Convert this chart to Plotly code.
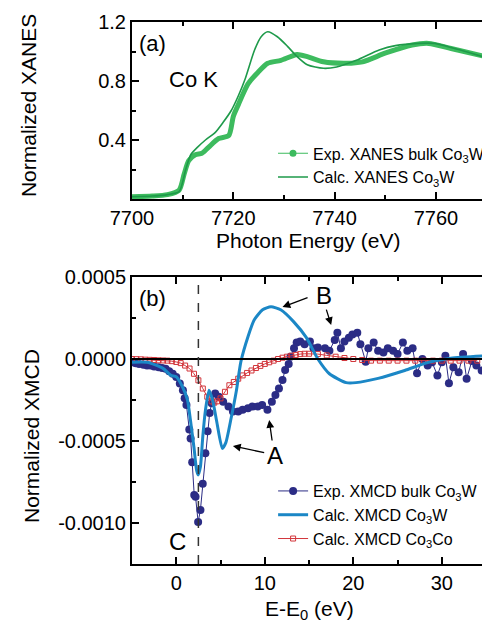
import plotly.graph_objects as go

# ---------------- Data: panel (a) XANES ----------------
xanes_calc_E = [7700, 7704, 7707, 7709.3, 7710.6, 7711.6, 7712.9, 7714.5, 7716.4, 7718, 7719.6,
                7721, 7722.3, 7724.2, 7725.5, 7726.8, 7728.7, 7730.7, 7732.6, 7734.6, 7737.8,
                7740.4, 7744.3, 7748.8, 7752, 7756.5, 7759.8, 7763.7, 7769.3]
xanes_calc_V = [0.015, 0.02, 0.03, 0.05, 0.20, 0.30, 0.35, 0.40, 0.45, 0.52, 0.60,
                0.70, 0.81, 1.01, 1.10, 1.134, 1.10, 1.035, 0.965, 0.91, 0.886,
                0.895, 0.94, 1.01, 1.04, 1.055, 1.055, 1.02, 0.965]

xanes_exp_E = [7700, 7704, 7707, 7709.3, 7710.3, 7711.2, 7712.5, 7713.8, 7715.1, 7717.1, 7719.1,
               7720.0, 7721.0, 7722.9, 7724.9, 7726.8, 7729.4, 7732.6, 7734.6, 7737.8, 7742.3,
               7745.5, 7750.1, 7755.3, 7758.6, 7763.0, 7769.3]
xanes_exp_V = [0.015, 0.02, 0.03, 0.06, 0.17, 0.26, 0.30, 0.31, 0.35, 0.41, 0.43,
               0.56, 0.64, 0.78, 0.86, 0.92, 0.94, 0.98, 0.965, 0.93, 0.92,
               0.93, 0.99, 1.044, 1.055, 1.02, 0.97]

# ---------------- Data: panel (b) XMCD ----------------
xmcd_exp_E = [-5.0, -4.6, -4.2, -3.7, -3.3, -2.9, -2.5, -2.0, -1.6, -1.2, -0.8, -0.4, 0.0, 0.4,
              0.75, 0.95, 1.15, 1.47, 1.62, 1.8, 2.03, 2.18, 2.47, 2.73, 2.99, 3.29, 3.54, 3.77,
              4.0, 4.4, 4.8, 5.3, 5.9, 6.4, 7.0, 7.5, 8.1, 8.6, 9.2, 9.7, 10.3, 10.8, 11.2, 11.6,
              12.0, 12.3, 12.7, 12.9, 13.3, 13.6, 14.0, 14.5, 15.1, 15.5, 16.0, 16.8, 17.3, 17.9,
              18.2, 18.6, 19.0, 19.5, 19.9, 20.45, 20.8, 21.4, 21.7, 22.3, 22.8, 23.4, 23.9, 24.5,
              25.0, 25.6, 26.1, 26.7, 27.2, 27.8, 28.4, 28.9, 29.5, 30.0, 30.4, 30.8, 31.3, 31.9,
              32.4, 32.8, 33.4, 33.9, 34.5]
xmcd_exp_V = [-0.00002, -0.000026, -0.00003, -0.000035, -0.00004, -0.00004, -0.000045, -0.00005,
              -0.000055, -0.00006, -0.000075, -0.00009, -0.00011, -0.00015, -0.00019, -0.00024,
              -0.00028, -0.00043, -0.000484, -0.00063, -0.00083, -0.00084, -0.000994, -0.00092,
              -0.00076, -0.000575, -0.00044, -0.00033, -0.00027, -0.00021, -0.00023, -0.00026,
              -0.00029, -0.00032, -0.00032, -0.00031, -0.0003, -0.00029, -0.00029, -0.00028,
              -0.00031, -0.00026, -0.00022, -0.00018, -0.000128, -0.000067, -0.00003, 0.000014,
              0.000065, 0.0001, 0.000106, 0.00009, 0.000106, 0.000065, 0.00007, 0.000065, 0.00005,
              0.000116, 0.00016, 0.000065, 0.000106, 0.00013, 0.00015, 0.00016, 0.00009, -0.000016,
              0.000065, 0.0001, 0.00005, 0.00004, 0.000065, 0.00005, 0.00003, 0.0001, 0.00005,
              0.000065, -0.000087, 0.0, -0.00004, -0.00002, -0.0001, -0.00002, 0.00002, -0.000148,
              -0.00005, -0.00008, 0.00003, -0.00012, -0.000012, -0.00004, -0.00007]

xmcd_calcW_E = [-5.0, -3.3, -1.5, -0.6, 0.0, 0.7, 1.27, 1.6, 2.0, 2.3, 2.47, 2.73, 3.0, 3.3, 3.7,
                4.1, 4.6, 5.2, 5.6, 6.2, 6.8, 7.3, 8.1, 8.8, 9.75, 10.7, 11.8, 13.25, 14.7, 16.0,
                17.3, 19.2, 20.3, 22.8, 25.8, 28.4, 31.0, 34.65]
xmcd_calcW_V = [-0.00002, -0.00002, -0.000057, -0.0001, -0.000108, -0.000169, -0.00025, -0.000372,
                -0.00054, -0.00068, -0.000707, -0.000657, -0.00047, -0.00031, -0.00019, -0.00025,
                -0.00039, -0.000545, -0.00051, -0.00036, -0.00019, -0.000016, 0.000136, 0.000238,
                0.0003, 0.000319, 0.0003, 0.000228, 0.00013, 0.0, -0.00009, -0.000144, -0.000144,
                -0.000118, -0.00007, -0.000022, 0.000004, 0.000018]

xmcd_calcCo_E = [-5, -4.5, -4, -3.5, -3, -2.5, -2, -1.5, -1, -0.5, 0, 0.5, 1.0, 1.5, 2.0, 2.5, 3.0,
                 3.5, 4.0, 4.3, 4.6, 5.0, 5.5, 6.0, 6.5, 7.0, 7.5, 8.0, 8.5, 9.0, 9.5, 10, 10.5, 11,
                 11.5, 12, 12.5, 13, 13.5, 14, 14.5, 15, 16, 17, 18, 19, 20, 21, 22, 23, 24, 25, 26,
                 27, 28, 29, 30, 31, 32, 33, 34]
xmcd_calcCo_V = [0.0, -0.000001, -0.000002, -0.000004, -0.000005, -0.000006, -0.000008, -0.000009,
                 -0.00001, -0.000013, -0.000018, -0.000025, -0.00004, -0.000058, -0.00009, -0.00013,
                 -0.00018, -0.00023, -0.000258, -0.000266, -0.000258, -0.00024, -0.0002, -0.00016,
                 -0.00014, -0.00012, -0.0001, -0.000085, -0.00007, -0.000055, -0.000042, -0.00003,
                 -0.00002, -0.00001, 0.0, 0.000008, 0.000014, 0.00002, 0.000025, 0.00003, 0.000032,
                 0.000032, 0.00003, 0.000022, 0.000014, 0.000006, 0.0, -0.000006, -0.00001, -0.00001,
                 -0.00001, -0.00001, -0.00001, -0.00001, -0.00001, -0.00001, -0.00001, -0.00001,
                 -0.00001, -0.00001, -0.00001]

E_C = 2.5  # position of feature C (dashed line)

# ---------------- Styles ----------------
FONT = "Liberation Sans, Arial, Helvetica, sans-serif"
GREEN_EXP = "#3dbb5e"
GREEN_CALC = "#1e9a4a"
NAVY = "#2b2c85"
BLUE = "#1b87c6"
RED = "#d2353b"

fig = go.Figure()

# panel (a)
fig.add_trace(go.Scatter(x=xanes_exp_E, y=xanes_exp_V, mode="lines",
                         line=dict(color=GREEN_EXP, width=5, shape="spline", smoothing=0.7),
                         showlegend=False, xaxis="x", yaxis="y"))
fig.add_trace(go.Scatter(x=[None], y=[None], mode="lines+markers", name="Exp. XANES bulk Co<sub>3</sub>W",
                         line=dict(color=GREEN_EXP, width=1.2), marker=dict(size=7, color=GREEN_EXP),
                         legend="legend", legendrank=1, xaxis="x", yaxis="y"))
fig.add_trace(go.Scatter(x=xanes_calc_E, y=xanes_calc_V, mode="lines", name="Calc. XANES Co<sub>3</sub>W",
                         line=dict(color=GREEN_CALC, width=1.6, shape="spline", smoothing=0.7),
                         legend="legend", legendrank=2, xaxis="x", yaxis="y"))

# panel (b)
fig.add_trace(go.Scatter(x=xmcd_exp_E, y=xmcd_exp_V, mode="lines+markers",
                         name="Exp. XMCD bulk Co<sub>3</sub>W",
                         line=dict(color=NAVY, width=1), marker=dict(size=8, color=NAVY),
                         legend="legend2", legendrank=1, xaxis="x2", yaxis="y2"))
fig.add_trace(go.Scatter(x=xmcd_calcCo_E, y=xmcd_calcCo_V, mode="lines+markers",
                         name="Calc. XMCD Co<sub>3</sub>Co",
                         line=dict(color=RED, width=1),
                         marker=dict(symbol="square-open", size=5, color=RED, line=dict(width=1)),
                         legend="legend2", legendrank=3, xaxis="x2", yaxis="y2"))
fig.add_trace(go.Scatter(x=xmcd_calcW_E, y=xmcd_calcW_V, mode="lines", name="Calc. XMCD Co<sub>3</sub>W",
                         line=dict(color=BLUE, width=3, shape="spline", smoothing=0.6),
                         legend="legend2", legendrank=2, xaxis="x2", yaxis="y2"))

axis_common = dict(showline=True, linecolor="black", linewidth=2, ticks="inside", ticklen=7,
                   tickwidth=1.5, tickcolor="black", showgrid=False, zeroline=False,
                   tickfont=dict(family=FONT, size=20, color="black"))

# page body has an 8px margin: figure is 482x617 so the page spans 490x625
fig.update_layout(
    width=482, height=617,
    margin=dict(l=124, r=0, t=14, b=61),
    paper_bgcolor="white", plot_bgcolor="white",
    font=dict(family=FONT, color="black"),
    xaxis=dict(domain=[0, 1], anchor="y", range=[7700, 7769.3], tickvals=[7700, 7720, 7740, 7760],
               mirror="ticks", minor=dict(ticks="inside", dtick=10, tick0=7700, ticklen=4, tickcolor="black"),
               **axis_common),
    yaxis=dict(domain=[0.6734, 1.0], anchor="x", range=[0, 1.2], tickvals=[0.4, 0.8, 1.2],
               ticktext=["0.4", "0.8", "1.2"],
               minor=dict(ticks="inside", dtick=0.2, tick0=0, ticklen=4, tickcolor="black"),
               **axis_common),
    xaxis2=dict(domain=[0, 1], anchor="y2", range=[-5, 34.65], tickvals=[0, 10, 20, 30],
                mirror="ticks", minor=dict(ticks="inside", dtick=5, tick0=0, ticklen=4, tickcolor="black"),
                **axis_common),
    yaxis2=dict(domain=[0, 0.5295], anchor="x2", range=[-0.00125, 0.0005],
                tickvals=[-0.0010, -0.0005, 0.0, 0.0005],
                ticktext=["-0.0010", "-0.0005", "0.0000", "0.0005"],
                minor=dict(ticks="inside", dtick=0.00025, tick0=0, ticklen=4, tickcolor="black"),
                **axis_common),
    legend=dict(x=0.402, y=0.789, xanchor="left", yanchor="top", bgcolor="rgba(0,0,0,0)",
                font=dict(family=FONT, size=16), tracegroupgap=0, itemwidth=30),
    legend2=dict(x=0.402, y=0.166, xanchor="left", yanchor="top", bgcolor="rgba(0,0,0,0)",
                 font=dict(family=FONT, size=16), tracegroupgap=0, itemwidth=30),
)

# zero line and dashed line in panel (b)
fig.add_shape(type="line", xref="x2 domain", yref="y2", x0=0, x1=1, y0=0, y1=0,
              line=dict(color="black", width=2))
fig.add_shape(type="line", xref="x2", yref="y2 domain", x0=E_C, x1=E_C, y0=0, y1=1,
              line=dict(color="#333333", width=1.5, dash="dash"))

def txt(s, x, y, size=21, xanchor="center", yanchor="middle", angle=0):
    fig.add_annotation(text=s, x=x, y=y, xref="paper", yref="paper", showarrow=False,
                       font=dict(family=FONT, size=size, color="black"),
                       xanchor=xanchor, yanchor=yanchor, textangle=angle)

def px(xp):
    return (xp - 132) / 358.0

def py(yp):
    return (564 - yp) / 542.0

# axis titles
txt("Normalized XANES", px(26), py(106), angle=-90)
txt("Photon Energy (eV)", px(312), py(241))
txt("Normalized XMCD", px(29), py(436), angle=-90)
txt("E-E<sub>0</sub> (eV)", px(313), py(610))
# panel labels
txt("(a)", px(137), py(43), size=22, xanchor="left")
txt("Co K", px(168), py(79), size=22, xanchor="left")
txt("(b)", px(137), py(298), size=22, xanchor="left")

# feature annotations in panel (b)
def label(s, x, y):
    fig.add_annotation(text=s, x=x, y=y, xref="x2", yref="y2", showarrow=False,
                       font=dict(family=FONT, size=24, color="black"))

def arrow(x_head, y_head, x_tail, y_tail):
    fig.add_annotation(x=x_head, y=y_head, ax=x_tail, ay=y_tail, xref="x2", yref="y2",
                       axref="x2", ayref="y2", text="", showarrow=True, arrowhead=2,
                       arrowsize=1.2, arrowwidth=1.3, arrowcolor="black")

label("B", 16.7, 0.00039)
arrow(12.0, 0.000317, 15.0, 0.000378)
arrow(17.5, 0.000207, 16.9, 0.00031)
label("A", 11.1, -0.00059)
arrow(6.4, -0.00053, 10.1, -0.000573)
arrow(10.5, -0.000372, 10.85, -0.000506)
label("C", 0.1, -0.00111)

fig.write_html("out.html")
